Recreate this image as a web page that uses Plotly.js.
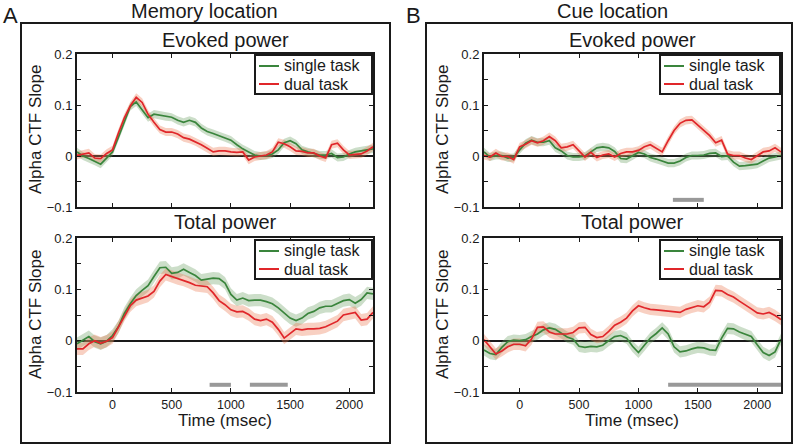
<!DOCTYPE html>
<html>
<head>
<meta charset="utf-8">
<script src="https://cdn.plot.ly/plotly-3.0.1.min.js"></script>
<style>
  body { margin: 0; background: #fff; }
  #chart { width: 800px; height: 446px; }
</style>
</head>
<body>
<div id="chart"></div>
<script>
var time = [-300, -250, -200, -150, -100, -50, 0, 50, 100, 150, 200, 250, 300, 350, 400, 450,
    500, 550, 600, 650, 700, 750, 800, 850, 900, 950, 1000, 1050, 1100, 1150, 1200, 1250,
    1300, 1350, 1400, 1450, 1500, 1550, 1600, 1650, 1700, 1750, 1800, 1850, 1900, 1950,
    2000, 2050, 2100, 2150, 2200];

// A - memory location
var memEvokedSingle = [0.008, 0.0, -0.005, -0.01, -0.016, -0.004, 0.008, 0.037, 0.068, 0.097, 0.106,
    0.09, 0.075, 0.082, 0.08, 0.077, 0.076, 0.07, 0.066, 0.07, 0.066, 0.055, 0.048, 0.044, 0.04,
    0.036, 0.031, 0.022, 0.014, 0.008, 0.002, 0.0, 0.001, 0.004, 0.012, 0.026, 0.03, 0.024, 0.012,
    0.008, 0.005, 0.002, 0.002, 0.005, -0.003, -0.002, 0.004, 0.008, 0.01, 0.012, 0.014];
var memEvokedDual = [0.001, 0.004, 0.006, -0.004, -0.005, 0.005, 0.012, 0.045, 0.075, 0.098, 0.115,
    0.105, 0.082, 0.066, 0.052, 0.047, 0.047, 0.043, 0.036, 0.033, 0.028, 0.022, 0.015, 0.008, 0.01,
    0.01, 0.008, 0.007, 0.008, -0.008, -0.002, 0.0, 0.002, 0.008, 0.027, 0.024, 0.018, 0.01, 0.009,
    0.006, 0.006, 0.0, -0.004, 0.022, 0.025, 0.012, 0.002, 0.003, 0.004, 0.01, 0.018];
var memTotalSingle = [-0.006, 0.001, 0.008, -0.002, -0.006, -0.001, 0.01, 0.027, 0.053, 0.072, 0.088,
    0.098, 0.107, 0.125, 0.142, 0.143, 0.131, 0.133, 0.139, 0.133, 0.127, 0.118, 0.12, 0.122, 0.121,
    0.112, 0.09, 0.079, 0.083, 0.078, 0.079, 0.079, 0.076, 0.072, 0.064, 0.053, 0.044, 0.039, 0.044,
    0.053, 0.057, 0.064, 0.067, 0.067, 0.072, 0.078, 0.08, 0.073, 0.08, 0.093, 0.091];
var memTotalDual = [-0.016, -0.016, -0.006, 0.0, -0.005, -0.001, 0.006, 0.027, 0.05, 0.068, 0.079,
    0.083, 0.087, 0.096, 0.116, 0.129, 0.125, 0.121, 0.118, 0.113, 0.108, 0.107, 0.105, 0.093, 0.078,
    0.07, 0.06, 0.056, 0.057, 0.051, 0.042, 0.039, 0.042, 0.036, 0.022, 0.005, 0.014, 0.023, 0.021,
    0.023, 0.023, 0.024, 0.027, 0.032, 0.038, 0.05, 0.052, 0.055, 0.04, 0.042, 0.055];

// B - cue location
var cueEvokedSingle = [0.008, -0.002, 0.001, 0.001, -0.004, -0.003, 0.012, 0.025, 0.031, 0.027, 0.027,
    0.03, 0.016, 0.01, 0.001, -0.002, -0.002, 0.0, 0.008, 0.016, 0.018, 0.016, 0.009, -0.005, -0.006,
    0.0, 0.007, 0.004, -0.003, -0.006, -0.01, -0.014, -0.014, -0.01, -0.003, 0.001, 0.001, 0.002, 0.005,
    0.006, -0.001, 0.0, -0.012, -0.02, -0.019, -0.018, -0.016, -0.01, -0.004, -0.002, 0.001];
var cueEvokedDual = [0.001, -0.002, 0.006, -0.001, -0.001, -0.007, 0.018, 0.023, 0.03, 0.026, 0.03,
    0.038, 0.03, 0.016, 0.018, 0.022, 0.01, -0.002, 0.007, -0.003, 0.002, 0.004, -0.002, 0.005, 0.008,
    0.008, 0.011, 0.018, 0.022, 0.015, 0.008, 0.03, 0.05, 0.064, 0.07, 0.071, 0.06, 0.05, 0.04,
    0.026, 0.031, 0.004, 0.001, 0.001, -0.004, -0.007, 0.0, 0.008, 0.01, 0.016, 0.008];
var cueTotalSingle = [-0.018, -0.025, -0.027, -0.013, -0.002, 0.001, 0.0, 0.002, 0.008, 0.013, 0.021,
    0.025, 0.022, 0.015, 0.007, 0.003, -0.011, -0.013, -0.011, -0.012, -0.009, 0.0, 0.008, 0.01, 0.005,
    -0.011, -0.023, -0.009, 0.005, 0.014, 0.025, 0.013, -0.012, -0.022, -0.02, -0.016, -0.013, -0.014,
    -0.018, -0.019, 0.005, 0.024, 0.023, 0.017, 0.012, 0.008, -0.008, -0.023, -0.029, -0.022, 0.003];
var cueTotalDual = [0.002, -0.012, -0.026, -0.02, -0.012, -0.007, -0.007, -0.01, 0.003, 0.026, 0.027,
    0.017, 0.013, 0.013, 0.013, 0.016, 0.025, 0.026, 0.012, 0.006, 0.008, 0.018, 0.03, 0.036, 0.044,
    0.058, 0.068, 0.064, 0.061, 0.06, 0.059, 0.058, 0.056, 0.055, 0.061, 0.065, 0.068, 0.066, 0.075,
    0.098, 0.097, 0.09, 0.085, 0.077, 0.07, 0.062, 0.054, 0.052, 0.055, 0.049, 0.041];

// half width of the shaded error band
var errMemEvoked = 0.008;
var errMemTotal = 0.012;
var errCueEvoked = 0.008;
var errCueTotal = 0.011;

// significant clusters (msec)
var sigMemEvoked = [];
var sigMemTotal = [[820, 1000], [1160, 1480]];
var sigCueEvoked = [[1290, 1550]];
var sigCueTotal = [[1250, 2200]];
var sigLevel = -0.086;

var seriesNames = ['single task', 'dual task'];

var yTicks = [-0.1, -0.05, 0, 0.05, 0.1, 0.15, 0.2];
var yTickText = ['\u22120.1', '', '0', '', '0.1', '', '0.2'];
var xTicks = [0, 500, 1000, 1500, 2000];
var xTickText = ['0', '500', '1000', '1500', '2000'];

var font = 'Liberation Sans, Arial, sans-serif';
var ink = '#1a1a1a';
var green = '#3a853c', red = '#e0262a';
var greenBand = 'rgba(110,160,100,0.35)', redBand = 'rgba(235,120,80,0.35)';

function band(vals, err, color, xa, ya) {
    var up = vals.map(v => v + err);
    var lo = vals.map(v => v - err).reverse();
    return {
        x: time.concat(time.slice().reverse()), y: up.concat(lo),
        xaxis: xa, yaxis: ya, type: 'scatter', mode: 'lines', fill: 'toself',
        fillcolor: color, line: {width: 0}, showlegend: false, hoverinfo: 'skip'
    };
}

function line(vals, name, color, xa, ya) {
    return {
        x: time, y: vals, name: name, xaxis: xa, yaxis: ya, showlegend: false,
        type: 'scatter', mode: 'lines', line: {color: color, width: 1.7}
    };
}

function sigBars(sig, xa, ya) {
    return sig.map(s => ({
        x: s, y: [sigLevel, sigLevel], xaxis: xa, yaxis: ya, type: 'scatter', mode: 'lines',
        line: {color: '#999', width: 4}, showlegend: false, hoverinfo: 'skip'
    }));
}

var panels = [
    {s: memEvokedSingle, d: memEvokedDual, err: errMemEvoked, sig: sigMemEvoked, xa: 'x', ya: 'y'},
    {s: memTotalSingle, d: memTotalDual, err: errMemTotal, sig: sigMemTotal, xa: 'x2', ya: 'y2'},
    {s: cueEvokedSingle, d: cueEvokedDual, err: errCueEvoked, sig: sigCueEvoked, xa: 'x3', ya: 'y3'},
    {s: cueTotalSingle, d: cueTotalDual, err: errCueTotal, sig: sigCueTotal, xa: 'x4', ya: 'y4'}
];

var data = [];
panels.forEach(p => {
    data.push(band(p.s, p.err, greenBand, p.xa, p.ya));
    data.push(band(p.d, p.err, redBand, p.xa, p.ya));
    data = data.concat(sigBars(p.sig, p.xa, p.ya));
    data.push(line(p.s, seriesNames[0], green, p.xa, p.ya));
    data.push(line(p.d, seriesNames[1], red, p.xa, p.ya));
});

function xAxis(domain, anchor, labels) {
    return {
        domain: domain, anchor: anchor, range: [-300, 2200],
        tickvals: xTicks, ticktext: xTickText, showticklabels: labels,
        ticks: 'inside', ticklen: 4, tickwidth: 1, tickcolor: ink,
        showline: true, mirror: 'ticks', linewidth: 2, linecolor: ink,
        showgrid: false, zeroline: false,
        tickfont: {family: font, size: 12.5, color: ink}
    };
}
function yAxis(domain, anchor) {
    return {
        domain: domain, anchor: anchor, range: [-0.1, 0.2],
        tickvals: yTicks, ticktext: yTickText,
        ticks: 'inside', ticklen: 4, tickwidth: 1, tickcolor: ink,
        showline: true, mirror: 'ticks', linewidth: 2, linecolor: ink,
        showgrid: false, zeroline: true, zerolinecolor: ink, zerolinewidth: 2,
        tickfont: {family: font, size: 13, color: ink}
    };
}

var colA = [77 / 800, 373 / 800], colB = [484 / 800, 781 / 800];
var rowTop = [(446 - 207) / 446, (446 - 54) / 446], rowBot = [(446 - 392) / 446, (446 - 238) / 446];

function px(x) { return x / 800; }
function py(y) { return (446 - y) / 446; }

function note(text, x, y, size, extra) {
    return Object.assign({
        text: text, x: px(x), y: py(y), xref: 'paper', yref: 'paper',
        showarrow: false, xanchor: 'center', yanchor: 'middle',
        font: {family: font, size: size, color: ink}
    }, extra || {});
}

var shapes = [
    {type: 'rect', xref: 'paper', yref: 'paper', x0: px(21), x1: px(390),
     y0: py(443), y1: py(23), line: {color: ink, width: 2}},
    {type: 'rect', xref: 'paper', yref: 'paper', x0: px(426), x1: px(792),
     y0: py(443), y1: py(23), line: {color: ink, width: 2}}
];
var annotations = [
    note('A', 10, 16, 22),
    note('B', 414, 16, 22),
    note('Memory location', 205, 11, 20),
    note('Cue location', 612, 11, 20),
    note('Evoked power', 225, 40, 20),
    note('Evoked power', 632, 40, 20),
    note('Total power', 225, 222, 20),
    note('Total power', 632, 222, 20),
    note('Alpha CTF Slope', 36, 130, 17, {textangle: -90}),
    note('Alpha CTF Slope', 36, 315, 17, {textangle: -90}),
    note('Alpha CTF Slope', 443, 130, 17, {textangle: -90}),
    note('Alpha CTF Slope', 443, 315, 17, {textangle: -90}),
    note('Time (msec)', 225, 420, 17),
    note('Time (msec)', 632, 420, 17)
];

// boxed legend in the top right of each panel
function legendBox(left, right, top) {
    shapes.push({type: 'rect', xref: 'paper', yref: 'paper', x0: px(left), x1: px(right),
        y0: py(top + 39), y1: py(top), fillcolor: '#fff', line: {color: ink, width: 2}, layer: 'above'});
    [green, red].forEach((c, i) => {
        var yy = top + 11 + i * 18;
        shapes.push({type: 'line', xref: 'paper', yref: 'paper', x0: px(left + 4), x1: px(left + 24),
            y0: py(yy), y1: py(yy), line: {color: c, width: 2}, layer: 'above'});
        annotations.push(note(seriesNames[i], left + 28, yy, 16,
            {xanchor: 'left', borderpad: 0}));
    });
}
legendBox(255, 372, 55);
legendBox(255, 372, 240);
legendBox(660, 780, 55);
legendBox(660, 780, 240);

var layout = {
    width: 800, height: 446,
    margin: {l: 0, r: 0, t: 0, b: 0},
    paper_bgcolor: '#fff', plot_bgcolor: '#fff',
    font: {family: font, color: ink},
    showlegend: false,
    xaxis: xAxis(colA, 'y', false), yaxis: yAxis(rowTop, 'x'),
    xaxis2: xAxis(colA, 'y2', true), yaxis2: yAxis(rowBot, 'x2'),
    xaxis3: xAxis(colB, 'y3', false), yaxis3: yAxis(rowTop, 'x3'),
    xaxis4: xAxis(colB, 'y4', true), yaxis4: yAxis(rowBot, 'x4'),
    shapes: shapes,
    annotations: annotations
};

Plotly.newPlot('chart', data, layout, {staticPlot: true});
</script>
</body>
</html>
